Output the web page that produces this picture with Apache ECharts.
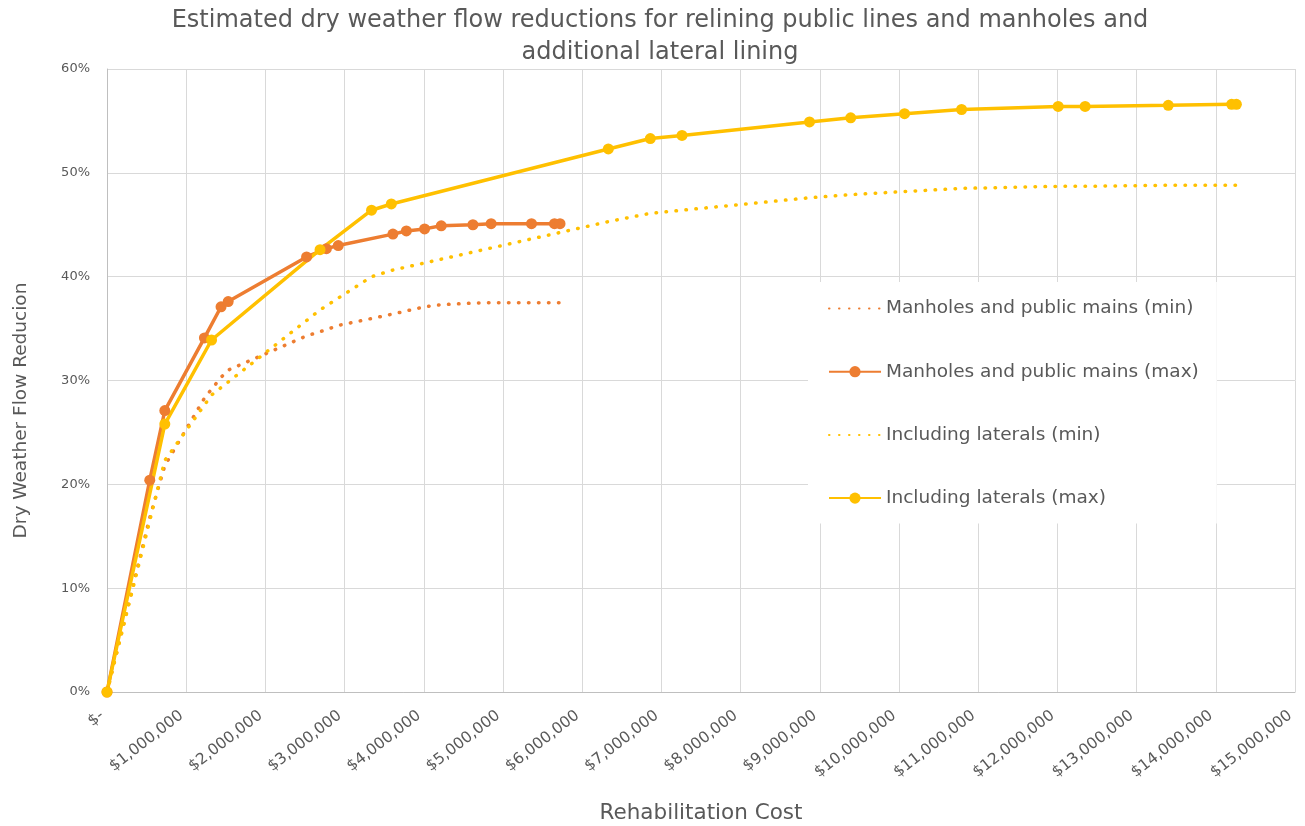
<!DOCTYPE html>
<html>
<head>
<meta charset="utf-8">
<script src="https://cdn.jsdelivr.net/npm/echarts@6/dist/echarts.min.js"></script>
<style>
  html, body { margin: 0; padding: 0; background: #fff; }
  #chart { width: 1305px; height: 826px; }
</style>
</head>
<body>
<div id="chart"></div>
<script>
// costs ($) and reductions (%)
var mainsCost = [0, 540000, 730000, 1230000, 1440000, 1530000, 2520000, 2770000, 2920000, 3610000, 3780000, 4010000, 4220000, 4620000, 4850000, 5360000, 5650000, 5720000];
var mainsMin = [0, 16.8, 21.8, 28.3, 30.3, 31.0, 34.3, 34.9, 35.3, 36.4, 36.7, 37.1, 37.3, 37.45, 37.5, 37.5, 37.5, 37.5];
var mainsMax = [0, 20.4, 27.1, 34.1, 37.1, 37.6, 41.9, 42.7, 43.0, 44.1, 44.4, 44.6, 44.9, 45.0, 45.1, 45.1, 45.1, 45.1];

var latCost = [0, 730000, 1320000, 2690000, 3340000, 3590000, 6330000, 6860000, 7260000, 8870000, 9390000, 10070000, 10790000, 12010000, 12350000, 13400000, 14200000, 14260000];
var latMin = [0, 22.3, 28.6, 36.8, 40.0, 40.6, 45.3, 46.1, 46.4, 47.6, 47.9, 48.2, 48.5, 48.7, 48.7, 48.8, 48.8, 48.8];
var latMax = [0, 25.8, 33.9, 42.6, 46.4, 47.0, 52.3, 53.3, 53.6, 54.9, 55.3, 55.7, 56.1, 56.4, 56.4, 56.5, 56.6, 56.6];

var seriesNames = ['Manholes and public mains (min)', 'Manholes and public mains (max)', 'Including laterals (min)', 'Including laterals (max)'];

var ORANGE = '#ED7D31';
var YELLOW = '#FFC000';
var TXT = '#595959';
var FONT = '"DejaVu Sans", "Open Sans", sans-serif';

function pairs(xs, ys) {
    return xs.map(function (x, i) { return [x, ys[i]]; });
}

function dotted(name, color, xs, ys) {
    return {
        name: name,
        type: 'line',
        data: pairs(xs, ys),
        symbol: 'none',
        lineStyle: { color: color, width: 3.5, type: [0.5, 9.5], cap: 'round' },
        itemStyle: { color: color }
    };
}

function solid(name, color, xs, ys) {
    return {
        name: name,
        type: 'line',
        data: pairs(xs, ys),
        symbol: 'circle',
        symbolSize: 11,
        lineStyle: { color: color, width: 3.5 },
        itemStyle: { color: color }
    };
}

var chart = echarts.init(document.getElementById('chart'));
chart.setOption({
    animation: false,
    title: {
        text: 'Estimated dry weather flow reductions for relining public lines and manholes and\nadditional lateral lining',
        left: 655,
        textAlign: 'center',
        top: 0,
        textStyle: { fontFamily: FONT, fontSize: 24, fontWeight: 'normal', color: TXT, lineHeight: 32 }
    },
    legend: {
        orient: 'vertical',
        left: 808,
        top: 282,
        padding: [17, 18, 16, 20],
        backgroundColor: '#fff',
        itemWidth: 52,
        itemHeight: 14,
        itemGap: 44.2,
        data: [
            { name: seriesNames[0], itemStyle: { opacity: 0 } },
            { name: seriesNames[1] },
            { name: seriesNames[2], itemStyle: { opacity: 0 } },
            { name: seriesNames[3] }
        ],
        textStyle: { fontFamily: FONT, fontSize: 18.5, color: TXT }
    },
    grid: { left: 107, right: 10, top: 69, bottom: 134, outerBoundsMode: 'none', containLabel: false },
    xAxis: {
        type: 'value',
        min: 0,
        max: 15000000,
        interval: 1000000,
        name: 'Rehabilitation Cost',
        nameLocation: 'middle',
        nameGap: 110,
        nameTextStyle: { fontFamily: FONT, fontSize: 21.5, color: TXT },
        axisLine: { show: true, lineStyle: { color: '#bfbfbf' } },
        axisTick: { show: false },
        splitLine: { show: true, lineStyle: { color: '#d9d9d9' } },
        axisLabel: {
            rotate: 38,
            margin: 18,
            padding: [0, 6, 0, 0],
            fontFamily: FONT,
            fontSize: 15.5,
            color: TXT,
            formatter: function (v) {
                return v === 0 ? '$-' : '$' + v.toLocaleString('en-US');
            }
        }
    },
    yAxis: {
        type: 'value',
        min: 0,
        max: 60,
        interval: 10,
        name: 'Dry Weather Flow Reducion',
        nameLocation: 'middle',
        nameGap: 76,
        nameTextStyle: { fontFamily: FONT, fontSize: 18.5, color: TXT, padding: [0, 60, 0, 0] },
        axisLine: { show: true, lineStyle: { color: '#bfbfbf' } },
        axisTick: { show: false },
        splitLine: { show: true, lineStyle: { color: '#d9d9d9' } },
        axisLabel: {
            margin: 17,
            fontFamily: FONT,
            fontSize: 13,
            color: TXT,
            formatter: '{value}%'
        }
    },
    series: [
        dotted(seriesNames[0], ORANGE, mainsCost, mainsMin),
        solid(seriesNames[1], ORANGE, mainsCost, mainsMax),
        dotted(seriesNames[2], YELLOW, latCost, latMin),
        solid(seriesNames[3], YELLOW, latCost, latMax)
    ]
});
</script>
</body>
</html>
